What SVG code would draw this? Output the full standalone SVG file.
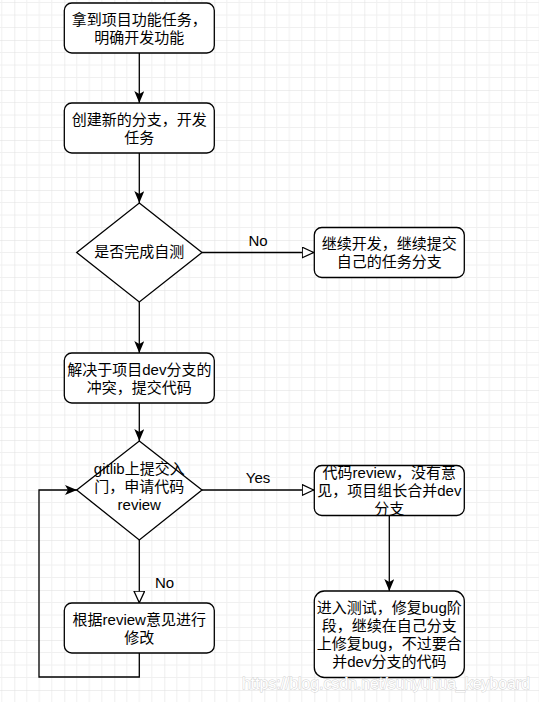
<svg xmlns="http://www.w3.org/2000/svg" width="539" height="702" viewBox="0 0 539 702">
<style>
.box{fill:#fff;stroke:#000;stroke-width:1.3}
.t{font-family:"Liberation Sans","Noto Sans CJK SC",sans-serif;font-size:15px;fill:#000;text-anchor:middle}
.edge{fill:none;stroke:#000;stroke-width:1.3}
</style>
<defs>
<pattern id="grid" patternUnits="userSpaceOnUse" x="14.3" y="-10" width="50" height="50">
<path d="M12.5,0V50M25,0V50M37.5,0V50M0,12.5H50M0,25H50M0,37.5H50" stroke="#f0f0f0" stroke-width="1" fill="none"/>
<path d="M0,0V50M0,0H50" stroke="#dedede" stroke-width="1" fill="none"/>
</pattern>
<marker id="arr" markerUnits="userSpaceOnUse" viewBox="0 0 12 10" markerWidth="12" markerHeight="10" refX="12" refY="5" orient="auto">
<path d="M0,0 L12,5 L0,10 L3,5 Z" fill="#000"/>
</marker>
<marker id="tri" markerUnits="userSpaceOnUse" viewBox="0 0 13 12" markerWidth="13" markerHeight="12" refX="12.5" refY="6" orient="auto">
<path d="M0.7,0.7 L12.2,6 L0.7,11.3 Z" fill="#fff" stroke="#000" stroke-width="1.3"/>
</marker>
</defs>
<rect width="539" height="702" fill="#fff"/>
<rect width="539" height="702" fill="url(#grid)"/>

<g id="connectors">
<path class="edge" d="M139.3,53V103" marker-end="url(#arr)"/>
<path class="edge" d="M139.3,153V203" marker-end="url(#arr)"/>
<path class="edge" d="M139.3,302V353" marker-end="url(#arr)"/>
<path class="edge" d="M139.3,403V441" marker-end="url(#arr)"/>
<path class="edge" d="M202,252.5H314" marker-end="url(#tri)"/>
<path class="edge" d="M202,490H314" marker-end="url(#tri)"/>
<path class="edge" d="M139.3,540V603" marker-end="url(#tri)"/>
<path class="edge" d="M389.3,515V591" marker-end="url(#arr)"/>
<path class="edge" d="M139.3,653V677H39V490H77" marker-end="url(#arr)"/>
<text class="t" x="258" y="245.5">No</text>
<text class="t" x="258" y="483">Yes</text>
<text class="t" x="164.5" y="587.5">No</text>
</g>

<g id="n1">
<rect class="box" x="64.3" y="3" width="150" height="50" rx="7.5"/>
<text class="t" x="139.3" y="24.5">拿到项目功能任务，</text>
<text class="t" x="139.3" y="42.5">明确开发功能</text>
</g>
<g id="n2">
<rect class="box" x="64.3" y="103" width="150" height="50" rx="7.5"/>
<text class="t" x="139.3" y="124.5">创建新的分支，开发</text>
<text class="t" x="139.3" y="142.5">任务</text>
</g>
<g id="d1">
<path class="box" d="M139.3,203 L202,252.5 L139.3,302 L76.7,252.5 Z"/>
<text class="t" x="139.3" y="257">是否完成自测</text>
</g>
<g id="n4">
<rect class="box" x="314.3" y="227.5" width="150" height="50" rx="7.5"/>
<text class="t" x="389.3" y="249">继续开发，继续提交</text>
<text class="t" x="389.3" y="267">自己的任务分支</text>
</g>
<g id="n5">
<rect class="box" x="64.3" y="353" width="150" height="50" rx="7.5"/>
<text class="t" x="139.3" y="374.5">解决于项目dev分支的</text>
<text class="t" x="139.3" y="392.5">冲突，提交代码</text>
</g>
<g id="d2">
<path class="box" d="M139.3,441 L202,490 L139.3,540 L76.7,490 Z"/>
<text class="t" x="139.3" y="474">gitlib上提交入</text>
<text class="t" x="139.3" y="492">门，申请代码</text>
<text class="t" x="139.3" y="510">review</text>
</g>
<g id="n7">
<rect class="box" x="314.3" y="465.5" width="150" height="50" rx="7.5"/>
<text class="t" x="389.3" y="478">代码review，没有意</text>
<text class="t" x="389.3" y="496">见，项目组长合并dev</text>
<text class="t" x="389.3" y="514">分支</text>
</g>
<g id="n8">
<rect class="box" x="64.3" y="603" width="150" height="50" rx="7.5"/>
<text class="t" x="139.3" y="624.5">根据review意见进行</text>
<text class="t" x="139.3" y="642.5">修改</text>
</g>
<g id="n9">
<rect class="box" x="314.3" y="591" width="150" height="86.5" rx="10"/>
<text class="t" x="389.3" y="613">进入测试，修复bug阶</text>
<text class="t" x="389.3" y="631">段，继续在自己分支</text>
<text class="t" x="389.3" y="649">上修复bug，不过要合</text>
<text class="t" x="389.3" y="667">并dev分支的代码</text>
</g>
<text x="386" y="689" text-anchor="middle" font-family="Liberation Sans, sans-serif" font-size="16" fill="#fff" stroke="#cfcfcf" stroke-width="0.9" paint-order="stroke" textLength="288">https://blog.csdn.net/sunyuhua_keyboard</text>
</svg>
